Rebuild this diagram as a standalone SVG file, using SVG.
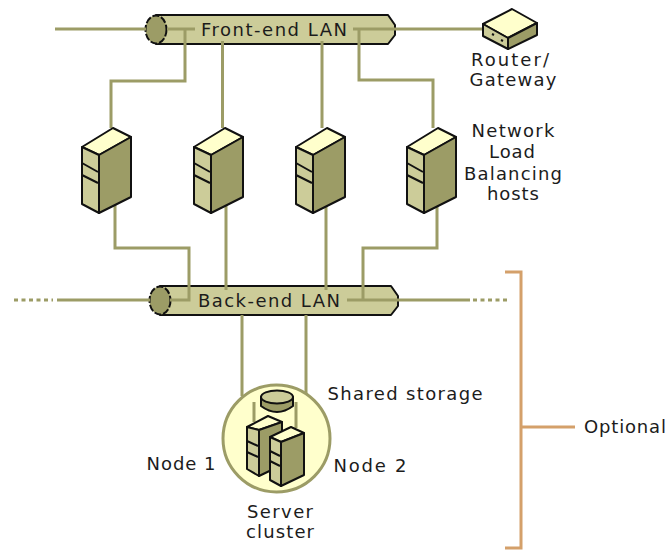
<svg xmlns="http://www.w3.org/2000/svg" width="672" height="551" viewBox="0 0 672 551">
<style>
text{font-family:"DejaVu Sans","Liberation Sans",sans-serif;font-size:18px;fill:#1c1c1c;text-anchor:middle}
.c{fill:none;stroke:#9c9c66;stroke-width:3}
.d{fill:none;stroke:#9c9c66;stroke-width:3;stroke-dasharray:4 3.5}
.o{stroke:#111;stroke-width:2;stroke-linejoin:round}
.t{fill:#ffffcc}.f{fill:#cccc99}.s{fill:#9c9c66}
.l{fill:none;stroke:#111;stroke-width:2}
.b{fill:none;stroke:#d4a06a;stroke-width:3}
</style>
<defs>
<g id="srv">
<path class="o t" d="M31 0L49 9L17 27L0 19Z"/>
<path class="o f" d="M0 19L17 27V85L0 76Z"/>
<path class="o s" d="M17 27L49 9V69L17 85Z"/>
<path class="l" d="M0 35L16 44M0 47L16 55"/>
</g>
<g id="srvS">
<path class="o t" d="M21 0L35 6L12 14L0 11Z"/>
<path class="o f" d="M0 11L12 14V60L0 53Z"/>
<path class="o s" d="M12 14L35 6V49L12 60Z"/>
<path class="l" d="M0 25L11 30M0 36L11 41"/>
</g>
</defs>
<g id="lan-front">
<path class="o f" d="M156 15H388L395 25V35L388 44H156Z"/>
<ellipse class="o s" cx="156" cy="29.500" rx="10.500" ry="14" stroke-dasharray="7 2"/>
<text x="274" y="36" textLength="146" lengthAdjust="spacing">Front-end LAN</text>
</g>
<g id="lan-back">
<path class="o f" d="M160 286H391L398 296V306L391 315H160Z"/>
<ellipse class="o s" cx="160" cy="300.500" rx="10.500" ry="14" stroke-dasharray="7 2"/>
<text x="269" y="307" textLength="142" lengthAdjust="spacing">Back-end LAN</text>
</g>
<g id="connectors">
<path class="c" d="M55 29H146M167 29H195M185 29V81H111V128M222.500 41V128M322 41V128M353 29H484M359 29V80H433V128"/>
<path class="c" d="M115 205V248H189V300H170M226 205V290M326 205V290M437 205V248H363V300M347 300H470M57 300H150M242 315V396M306 315V396"/>
<path class="d" d="M14 300H53M473 300H507"/>
<path class="b" d="M505 272H521V548H505M521 427H575"/>
</g>
<g id="server1"><use href="#srv" x="82" y="128"/></g>
<g id="server2"><use href="#srv" x="194" y="128"/></g>
<g id="server3"><use href="#srv" x="296" y="128"/></g>
<g id="server4"><use href="#srv" x="407" y="128"/></g>
<g id="router">
<path class="o t" d="M512 9L537 23L508 38L483 24Z"/>
<path class="o f" d="M483 24L508 38V49L483 36Z"/>
<path class="o s" d="M508 38L537 23V35L508 49Z"/>
<path class="l" d="M492 34l2 1M501 40l2 1"/>
<text x="510" y="66" textLength="78" lengthAdjust="spacing">Router/</text>
<text x="513" y="86" textLength="87" lengthAdjust="spacing">Gateway</text>
</g>
<g id="nlb-label">
<text x="513" y="137" textLength="83" lengthAdjust="spacing">Network</text>
<text x="512" y="158" textLength="46" lengthAdjust="spacing">Load</text>
<text x="513" y="180" textLength="98" lengthAdjust="spacing">Balancing</text>
<text x="513" y="200" textLength="52" lengthAdjust="spacing">hosts</text>
</g>
<g id="cluster">
<circle cx="276.500" cy="438.500" r="53.500" fill="#ffffcc" stroke="#9c9c66" stroke-width="3"/>
<path class="c" d="M254 402V422M296 402V428" stroke-width="2"/>
<path class="o s" d="M261 397V406Q277 418 293 406V397Z"/>
<ellipse class="o f" cx="277" cy="397" rx="16" ry="6.500"/>
<use href="#srvS" x="247" y="416"/>
<g transform="translate(270 427)">
<path class="o t" d="M21 0L34 6L11 15L0 10Z"/>
<path class="o f" d="M0 10L11 15V59L0 53Z"/>
<path class="o s" d="M11 15L34 6V48L11 59Z"/>
<path class="l" d="M0 24L10 29M0 34L10 39"/>
</g>
<text x="181" y="470" textLength="69" lengthAdjust="spacing">Node 1</text>
<text x="370" y="472" textLength="73" lengthAdjust="spacing">Node 2</text>
<text x="405" y="400" textLength="155" lengthAdjust="spacing">Shared storage</text>
<text x="280" y="518" textLength="66" lengthAdjust="spacing">Server</text>
<text x="280" y="538" textLength="68" lengthAdjust="spacing">cluster</text>
</g>
<text id="optional" x="625" y="433" textLength="82" lengthAdjust="spacing">Optional</text>
</svg>
